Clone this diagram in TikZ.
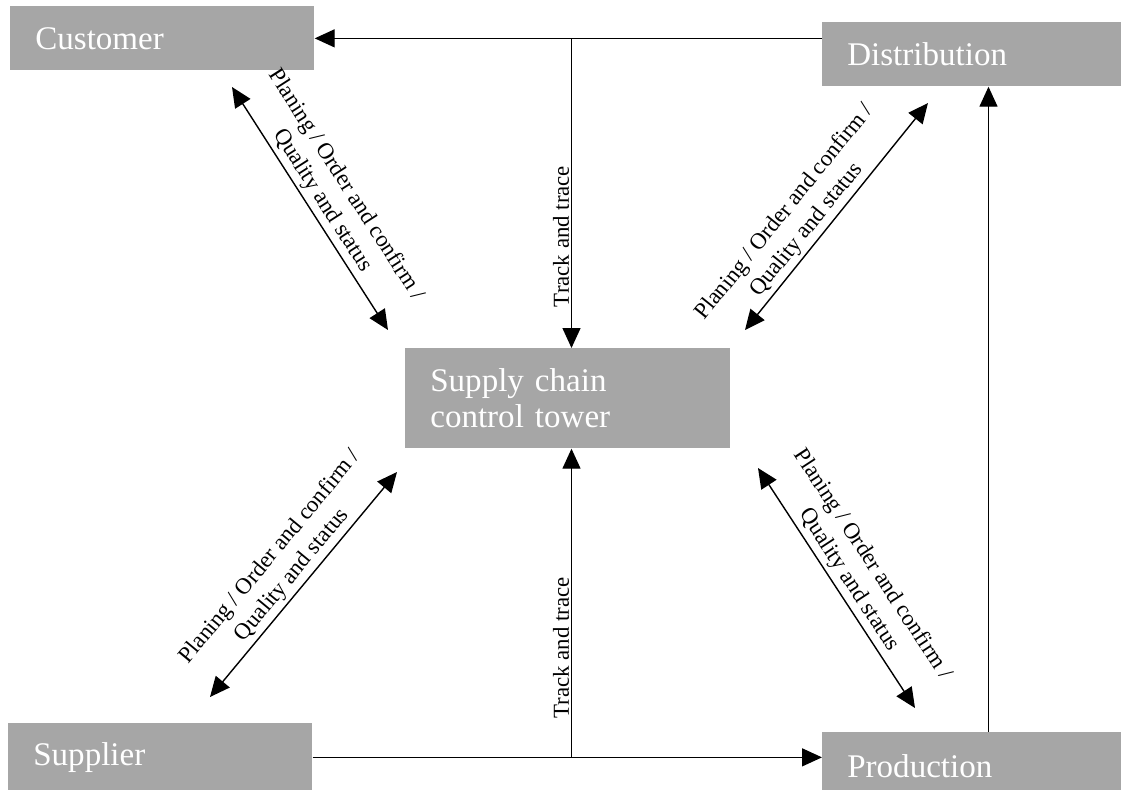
\documentclass[tikz,border=0pt]{standalone}
\usepackage{fontspec}
\setmainfont{Liberation Serif}
\usetikzlibrary{arrows.meta}
\definecolor{boxgray}{RGB}{166,166,166}

\begin{document}
\begin{tikzpicture}[
    box/.style={anchor=north west,fill=boxgray,text=white,align=left,inner xsep=0.5cm,minimum height=1.28cm,font=\fontsize{18.8}{20.8}\selectfont},
    arr/.style={line width=0.8pt,-{Triangle[length=0.4cm,width=0.36cm]}},
    twoway/.style={line width=0.8pt,{Triangle[length=0.4cm,width=0.36cm]}-{Triangle[length=0.4cm,width=0.36cm]}},
    lbl/.style={font=\fontsize{13}{16}\selectfont,align=center,inner sep=2pt}]
        \useasboundingbox (0,0) rectangle (22.42,-15.78);
        \node[box,text width=5.08cm] (customer) at (0.2,-0.12) {Customer};
        \node[box,text width=5.1cm] (distribution) at (16.44,-0.44) {Distribution};
        \node[box,text width=5.5cm,minimum height=2cm] (tower) at (8.1,-6.96) {Supply chain\\control tower};
        \node[box,text width=5.08cm,minimum height=1.36cm] (supplier) at (0.16,-14.46) {Supplier};
        \node[box,text width=5.1cm,minimum height=1.36cm] (production) at (16.44,-14.64) {Production};
        % free ends of the connectors
        \coordinate (trunk) at (11.43,0);
        \coordinate (riser) at (19.77,0);
        \coordinate (custtip) at (4.64,-1.74);
        \coordinate (towernw) at (7.76,-6.6);
        \coordinate (towerne) at (14.9,-6.6);
        \coordinate (disttip) at (18.56,-2.06);
        \coordinate (suptip) at (4.2,-13.94);
        \coordinate (towersw) at (7.94,-9.44);
        \coordinate (towerse) at (15.16,-9.36);
        \coordinate (prodtip) at (18.3,-14.16);
        % track and trace
        \draw[arr] (customer.east -| distribution.west) -- (customer.east);
        \draw[arr] (trunk |- customer.east) -- (trunk |- tower.north) node[lbl,pos=0.64,rotate=90,anchor=south,inner sep=1pt] {Track and trace};
        \draw[arr] (supplier.east) -- (supplier.east -| production.west);
        \draw[arr] (trunk |- supplier.east) -- (trunk |- tower.south) node[lbl,pos=0.355,rotate=90,anchor=south,inner sep=1pt] {Track and trace};
        \draw[arr] (riser |- production.north) -- (riser |- distribution.south);
        % planning flows
        \draw[twoway] (custtip) -- (towernw) node[lbl,midway,sloped,above] {Planing / Order and confirm /\\Quality and status};
        \draw[twoway] (towerne) -- (disttip) node[lbl,pos=0.4,sloped,above] {Planing / Order and confirm /\\Quality and status};
        \draw[twoway] (suptip) -- (towersw) node[lbl,midway,sloped,above] {Planing / Order and confirm /\\Quality and status};
        \draw[twoway] (towerse) -- (prodtip) node[lbl,midway,sloped,above] {Planing / Order and confirm /\\Quality and status};
      \end{tikzpicture}
\end{document}
